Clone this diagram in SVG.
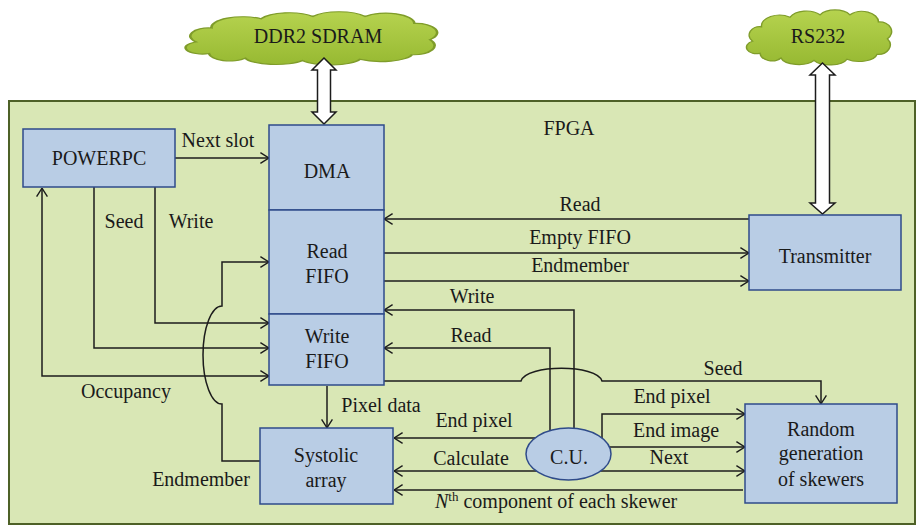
<svg xmlns="http://www.w3.org/2000/svg" width="919" height="525" viewBox="0 0 919 525" font-family="'Liberation Serif', 'DejaVu Serif', serif">
  <defs>
    <linearGradient id="cloudFill" x1="0" y1="0" x2="0" y2="1">
      <stop offset="0" stop-color="#b6d34f"/>
      <stop offset="1" stop-color="#97b932"/>
    </linearGradient>
    <marker id="arr" viewBox="0 0 10 12" refX="9.6" refY="6" markerWidth="10" markerHeight="12" markerUnits="userSpaceOnUse" orient="auto-start-reverse">
      <path d="M1,0.6 L9.4,6 L1,11.4" fill="none" stroke="#1c1c1c" stroke-width="1.4"/>
    </marker>
    <!-- cloud outline in a 100 x 50 unit box -->
    <path id="cloud" d="M5,31 A7,7 0 0 1 11,19 A12,9 0 0 1 30,11 A12,9 0 0 1 50,9 A12,9 0 0 1 70,9 A11,9 0 0 1 89,15 A8,8 0 0 1 95,29 A8,8 0 0 1 88,42 A12,7 0 0 1 68,46 A12,7 0 0 1 46,47 A12,7 0 0 1 24,45 A8,7 0 0 1 10,41 A6,5 0 0 1 5,31 Z"/>
  </defs>
  <style>
    text { font-family: "Liberation Serif", "DejaVu Serif", serif; font-size: 20px; fill: #1a1a1a; text-anchor: middle; }
    .box { fill: #b9cde5; stroke: #2f4b8a; stroke-width: 1.5; }
    .wire { fill: none; stroke: #1c1c1c; stroke-width: 1.5; }
    .arrow { marker-end: url(#arr); }
    .both { marker-start: url(#arr); marker-end: url(#arr); }
    .cloud { fill: url(#cloudFill); stroke: #7f9c2a; stroke-width: 1; }
    .block { fill: #ffffff; stroke: #1c1c1c; stroke-width: 1.5; stroke-linejoin: miter; }
  </style>

  <!-- white page -->
  <rect x="0" y="0" width="919" height="525" fill="#ffffff"/>

  <!-- FPGA frame -->
  <g id="fpga">
    <rect x="9" y="101" width="906" height="423" fill="#d9e7b5" stroke="#4e6127" stroke-width="2"/>
    <text x="569" y="135">FPGA</text>
  </g>

  <!-- external devices -->
  <g id="ddr2">
    <use href="#cloud" class="cloud" transform="translate(183,6) scale(2.6,1.16)" vector-effect="non-scaling-stroke"/>
    <text x="318" y="43">DDR2 SDRAM</text>
  </g>
  <g id="rs232">
    <use href="#cloud" class="cloud" transform="translate(745,4) scale(1.5,1.2)" vector-effect="non-scaling-stroke"/>
    <text x="818" y="43">RS232</text>
  </g>

  <!-- connectors -->
  <g id="connectors">
    <!-- bidirectional block arrows to external devices -->
    <polygon class="block" points="324,58 336,70 330.5,70 330.5,112 336,112 324,124 312,112 317.5,112 317.5,70 312,70"/>
    <polygon class="block" points="822.5,63 835,75 829.5,75 829.5,203 835,203 822.5,214 810,203 815.5,203 815.5,75 810,75"/>

    <path class="wire arrow" d="M175,158 H269"/>
    <path class="wire both" d="M42,188 V376 H269"/>
    <path class="wire arrow" d="M94,187 V348 H269"/>
    <path class="wire arrow" d="M155,187 V323 H269"/>
    <path class="wire arrow" d="M260,461 H222 V404 A19,49 0 0 1 222,306 V262 H269"/>

    <path class="wire arrow" d="M749,219 H384"/>
    <path class="wire arrow" d="M384,253 H749"/>
    <path class="wire arrow" d="M384,281 H749"/>
    <path class="wire arrow" d="M574,440 V310 H384"/>
    <path class="wire arrow" d="M550,440 V348 H384"/>

    <path class="wire arrow" d="M384,381 H521 C526,364 597,364 602,381 H821 V404"/>
    <path class="wire arrow" d="M327,386 V428"/>

    <path class="wire arrow" d="M602,445 V414 H745"/>
    <path class="wire arrow" d="M600,447 H745"/>
    <path class="wire arrow" d="M568,471 H745"/>
    <path class="wire arrow" d="M568,471 H394"/>
    <path class="wire arrow" d="M545,438 H394"/>
    <path class="wire arrow" d="M743,490 H394"/>

    <text x="218" y="147">Next slot</text>
    <text x="124" y="228">Seed</text>
    <text x="191" y="228">Write</text>
    <text x="126" y="398">Occupancy</text>
    <text x="201" y="486">Endmember</text>
    <text x="580" y="211">Read</text>
    <text x="580" y="244">Empty FIFO</text>
    <text x="580" y="272">Endmember</text>
    <text x="472" y="303">Write</text>
    <text x="471" y="342">Read</text>
    <text x="723" y="375">Seed</text>
    <text x="672" y="403">End pixel</text>
    <text x="676" y="437">End image</text>
    <text x="669" y="464">Next</text>
    <text x="381" y="412">Pixel data</text>
    <text x="474" y="427">End pixel</text>
    <text x="471" y="465">Calculate</text>
    <text x="435" y="508" style="text-anchor:start"><tspan font-style="italic">N</tspan><tspan dy="-7" font-size="13">th</tspan><tspan dy="7"> component of each skewer</tspan></text>
  </g>

  <!-- processing blocks -->
  <g id="powerpc">
    <rect class="box" x="23" y="129" width="152" height="58"/>
    <text x="99" y="165">POWERPC</text>
  </g>
  <g id="dma">
    <rect class="box" x="269" y="125" width="115" height="85"/>
    <text x="327" y="178">DMA</text>
  </g>
  <g id="read-fifo">
    <rect class="box" x="269" y="210" width="115" height="104"/>
    <text x="327" y="258">Read</text>
    <text x="327" y="283">FIFO</text>
  </g>
  <g id="write-fifo">
    <rect class="box" x="269" y="314" width="115" height="71"/>
    <text x="327" y="343">Write</text>
    <text x="327" y="368">FIFO</text>
  </g>
  <g id="transmitter">
    <rect class="box" x="749" y="215" width="152" height="75"/>
    <text x="825" y="263">Transmitter</text>
  </g>
  <g id="systolic-array">
    <rect class="box" x="260" y="428" width="133" height="76"/>
    <text x="326" y="462">Systolic</text>
    <text x="326" y="487">array</text>
  </g>
  <g id="control-unit">
    <ellipse class="box" cx="568.5" cy="454" rx="42.5" ry="26"/>
    <text x="569" y="464">C.U.</text>
  </g>
  <g id="skewer-generator">
    <rect class="box" x="745" y="404" width="152" height="99"/>
    <text x="821" y="436">Random</text>
    <text x="821" y="460">generation</text>
    <text x="821" y="486">of skewers</text>
  </g>
</svg>
